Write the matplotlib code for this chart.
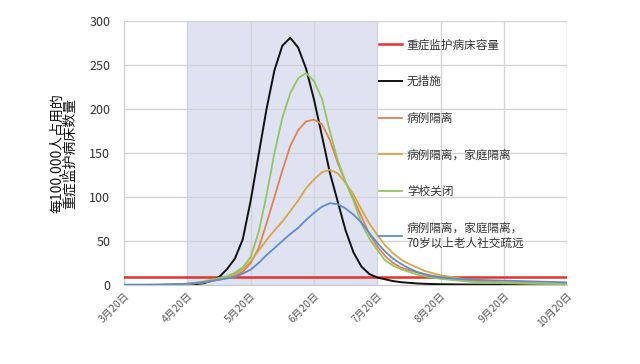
import matplotlib
matplotlib.use('Agg')
import matplotlib.pyplot as plt

plt.rcParams['font.family'] = ['Noto Sans CJK SC', 'DejaVu Sans']

# x position in months after 3月20日
months = [0, 0.5, 0.75, 0.875, 1.0, 1.125, 1.25, 1.375, 1.5, 1.625, 1.75, 1.875,
          2.0, 2.125, 2.25, 2.375, 2.5, 2.625, 2.75, 2.875, 3.0, 3.125, 3.25, 3.375,
          3.5, 3.625, 3.75, 3.875, 4.0, 4.125, 4.25, 4.375, 4.5, 4.625, 4.75, 4.875,
          5.0, 5.5, 6.0, 6.5, 7.0]

tick_labels = ['3月20日', '4月20日', '5月20日', '6月20日', '7月20日',
               '8月20日', '9月20日', '10月20日']

icu_capacity = 9

no_measures = [0, 0, 0.2, 0.3, 0.6, 1.0, 2, 4.5, 9, 18, 30, 52,
               96, 148, 200, 244, 272, 281, 270, 246, 211, 170, 128, 95,
               62, 37, 21, 12.5, 8.5, 6.5, 4.5, 3.2, 2.5, 1.8, 1.4, 1.1,
               0.9, 0.5, 0.3, 0.2, 0.1]

case_isolation = [0, 0.2, 0.4, 0.7, 1.2, 2, 3, 4.5, 6, 8, 10.5, 15,
                  25, 42, 70, 100, 130, 158, 176, 186, 188, 183, 165, 139,
                  117, 98, 78, 58, 44, 33, 25, 20, 17, 14.5, 12.5, 10.5,
                  9, 4.5, 2.5, 1.5, 1]

case_home = [0, 0.2, 0.4, 0.7, 1.2, 2, 3, 4.5, 6.5, 8.5, 12, 18,
             27, 39, 51, 62, 72, 84, 96, 110, 120, 128, 131, 127,
             116, 103, 86, 70, 57, 45, 36, 29, 24, 20, 16, 13.5,
             11, 5.5, 3, 2, 1]

school_closure = [0, 0.2, 0.5, 0.8, 1.5, 2.5, 4, 6, 8, 10, 14, 20,
                  32, 60, 102, 150, 190, 218, 235, 241, 232, 212, 175, 142,
                  117, 96, 70, 53, 40, 28, 22, 18, 15, 12, 10, 8.5,
                  7, 3.5, 2, 1.5, 1]

case_home_elderly = [0.5, 0.5, 0.8, 1, 1.5, 2.2, 3.2, 4.5, 6, 7.5, 9, 13,
                     17.5, 25, 34, 42, 50, 58, 65, 74, 82, 89, 93, 92,
                     87, 80, 71, 59, 48, 38, 30, 24, 19, 15, 12, 10,
                     8.5, 6, 5, 4, 3]

fig = plt.figure(figsize=(6.4, 3.64), dpi=100)
ax = fig.add_axes([0.194, 0.217, 0.692, 0.725])

ax.axvspan(1, 4, color='#dfe3f1', zorder=0, lw=0)

ax.plot([0, 7], [icu_capacity, icu_capacity], color='#e8302a', lw=1.8, label='重症监护病床容量', zorder=3)
ax.plot(months, no_measures, color='#111111', lw=1.4, label='无措施', zorder=4)
ax.plot(months, case_isolation, color='#e3804f', lw=1.3, label='病例隔离', zorder=4)
ax.plot(months, case_home, color='#d6a743', lw=1.3, label='病例隔离，家庭隔离', zorder=4)
ax.plot(months, school_closure, color='#93c560', lw=1.3, label='学校关闭', zorder=4)
ax.plot(months, case_home_elderly, color='#5b8ccf', lw=1.3,
        label='病例隔离，家庭隔离，\n70岁以上老人社交疏远', zorder=4)

ax.set_xlim(0, 7)
ax.set_ylim(0, 300)
ax.set_yticks(range(0, 301, 50))
ax.set_xticks(range(8))
ax.set_xticklabels(tick_labels, rotation=45, ha='right', va='top',
                   rotation_mode='anchor', fontsize=7.5, color='#595959')
ax.tick_params(axis='y', labelsize=9, colors='#333333', length=0, pad=10)
ax.tick_params(axis='x', length=0, pad=4)

ax.set_axisbelow(True)
ax.grid(True, color='#d4d4d8', lw=1)
for s in ['top', 'right']:
    ax.spines[s].set_visible(False)
ax.spines['left'].set_color('#d0d0d0')
ax.spines['bottom'].set_color('#c8c8c8')

ax.set_ylabel('每100,000人占用的\n重症监护病床数量', fontsize=10, color='#111111',
              linespacing=0.95, labelpad=9)

leg = ax.legend(loc='upper left', bbox_to_anchor=(0.575, 0.934), frameon=False,
                fontsize=8.4, handlelength=2.0, handletextpad=0.4,
                labelspacing=2.02, borderpad=0, borderaxespad=0)
for t in leg.get_texts():
    t.set_color('#333333')

fig.savefig('out.png', dpi=100)
